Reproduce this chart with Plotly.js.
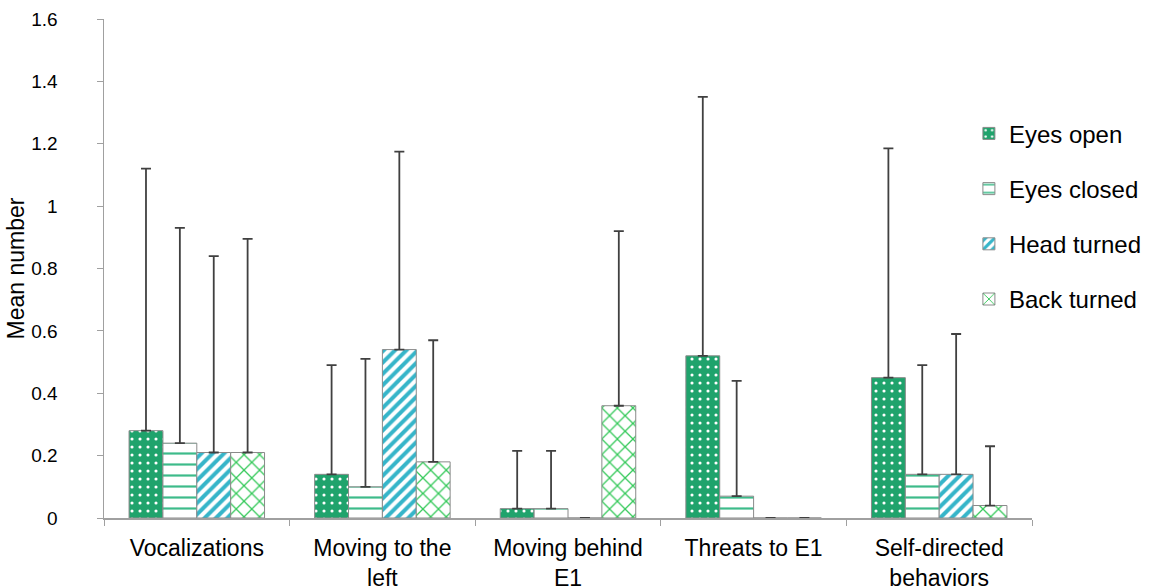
<!DOCTYPE html>
<html>
<head>
<meta charset="utf-8">
<script src="https://cdn.plot.ly/plotly-3.0.1.min.js"></script>
<style>html,body{margin:0;padding:0;background:#fff;}#chart{width:1159px;height:587px;}</style>
</head>
<body>
<div id="chart"></div>
<script>
const categories = ["Vocalizations", "Moving to the<br>left", "Moving behind<br>E1", "Threats to E1", "Self-directed<br>behaviors"];
const seriesNames = ["Eyes open", "Eyes closed", "Head turned", "Back turned"];
// mean values
const eyesOpen    = [0.28, 0.14, 0.03, 0.52, 0.45];
const eyesClosed  = [0.24, 0.10, 0.03, 0.07, 0.14];
const headTurned  = [0.21, 0.54, 0.00, 0.00, 0.14];
const backTurned  = [0.21, 0.18, 0.36, 0.00, 0.04];
// upper ends of the error bars (null = no bar)
const eyesOpenTop   = [1.12, 0.49, 0.215, 1.35, 1.185];
const eyesClosedTop = [0.93, 0.51, 0.215, 0.44, 0.49];
const headTurnedTop = [0.84, 1.175, null, null, 0.59];
const backTurnedTop = [0.895, 0.57, 0.92, null, 0.23];

const values = [eyesOpen, eyesClosed, headTurned, backTurned];
const tops = [eyesOpenTop, eyesClosedTop, headTurnedTop, backTurnedTop];
const patterns = [
  {shape: ".", bgcolor: "#1fa36c", fgcolor: "#ffffff", size: 8, solidity: 0.12, fillmode: "replace"},
  {shape: "-", bgcolor: "#ffffff", fgcolor: "#3dbb8a", size: 11, solidity: 0.2, fillmode: "replace"},
  {shape: "/", bgcolor: "#ffffff", fgcolor: "#36b5c9", size: 8, solidity: 0.5, fillmode: "replace"},
  {shape: "x", bgcolor: "#ffffff", fgcolor: "#35c95a", size: 11, solidity: 0.22, fillmode: "replace"}
];
const swatch = ["#1fa36c", "#ffffff", "#ffffff", "#ffffff"];

const traces = seriesNames.map((name, i) => ({
  type: "bar",
  name: name,
  legendgroup: "g" + i,
  x: categories,
  y: values[i],
  marker: {color: swatch[i], line: {color: "#8a8a8a", width: 1}, pattern: patterns[i]},
  error_y: {
    type: "data", symmetric: false,
    array: tops[i].map((t, k) => t === null ? null : +(t - values[i][k]).toFixed(4)),
    arrayminus: values[i].map(() => 0),
    color: "#404040", thickness: 1.8, width: 5
  },
  hoverinfo: "x+y+name"
}));

const layout = {
  width: 1159, height: 587,
  margin: {l: 104, r: 127, t: 19, b: 69},
  paper_bgcolor: "#ffffff", plot_bgcolor: "#ffffff",
  font: {family: "Liberation Sans, Arial, sans-serif", color: "#000000"},
  barmode: "group", bargap: 0.27, bargroupgap: 0,
  showlegend: true,
  legend: {
    x: 0.932, xanchor: "left", y: 0.815, yanchor: "top",
    font: {size: 24, color: "#000"}, tracegroupgap: 21, bgcolor: "rgba(0,0,0,0)",
    itemclick: false
  },
  xaxis: {
    type: "category", range: [-0.5, 4.5],
    showline: true, linecolor: "#a0a0a0", linewidth: 1.5,
    ticks: "outside", tickson: "boundaries", ticklen: 6, tickcolor: "#a0a0a0",
    tickfont: {size: 23, color: "#000"}, ticklabelstandoff: 9,
    showgrid: false, zeroline: false
  },
  yaxis: {
    range: [0, 1.6], dtick: 0.2, tick0: 0,
    showline: true, linecolor: "#a0a0a0", linewidth: 1.5,
    ticks: "outside", ticklen: 6, tickcolor: "#a0a0a0",
    tickfont: {size: 19, color: "#000"}, ticklabelstandoff: 35,
    showgrid: false, zeroline: false,
    title: {text: "Mean number", font: {size: 23, color: "#000"}, standoff: 0}
  }
};

Plotly.newPlot("chart", traces, layout, {displayModeBar: false, staticPlot: true});
</script>
</body>
</html>
